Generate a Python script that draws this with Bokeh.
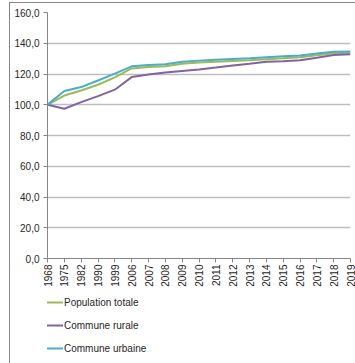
from bokeh.plotting import figure
from bokeh.layouts import column
from bokeh.models import Range1d, FixedTicker, Legend, LegendItem
from bokeh.embed import file_html
from bokeh.resources import INLINE
import math

# Census years (categorical x axis)
years = ["1968", "1975", "1982", "1990", "1999", "2006", "2007", "2008", "2009",
         "2010", "2011", "2012", "2013", "2014", "2015", "2016", "2017", "2018", "2019"]

# Population index, base 100 in 1968
population_totale = [100.0, 106.0, 109.3, 113.0, 117.8, 123.6, 124.5, 125.0, 126.7,
                     127.4, 128.0, 128.5, 128.9, 129.6, 130.2, 130.9, 132.2, 133.5, 133.9]
commune_rurale = [100.0, 97.4, 101.7, 105.6, 109.8, 118.0, 119.7, 121.0, 122.0,
                  123.0, 124.2, 125.5, 126.6, 128.0, 128.3, 128.9, 130.6, 132.4, 132.8]
commune_urbaine = [100.0, 108.9, 111.5, 115.8, 120.2, 125.0, 125.8, 126.4, 128.0,
                   128.7, 129.3, 129.8, 130.2, 130.9, 131.5, 132.0, 133.3, 134.4, 134.6]

series_names = ["Population totale", "Commune rurale", "Commune urbaine"]
series_colors = ["#9bbb59", "#8064a2", "#4bacc6"]

y_ticks = [0, 20, 40, 60, 80, 100, 120, 140, 160]

xs = list(range(len(years)))

FONT = "Liberation Sans"
AXIS_GREY = "#868686"
TEXT = "#262626"

p = figure(width=346, height=290, output_backend="svg", toolbar_location=None,
           x_range=Range1d(0, len(years) - 1), y_range=Range1d(0, 160),
           min_border_left=37, min_border_right=6, min_border_top=9,
           min_border_bottom=35)
p.outline_line_color = None
p.background_fill_color = "white"
p.border_fill_color = "white"

# series
for vals, col in zip([population_totale, commune_rurale, commune_urbaine], series_colors):
    p.line(xs, vals, line_color=col, line_width=2)

# x axis
xa = p.xaxis[0]
xa.ticker = FixedTicker(ticks=xs)
xa.major_label_overrides = {i: y for i, y in enumerate(years)}
xa.major_label_orientation = math.pi / 2
xa.major_label_text_font = FONT
xa.major_label_text_font_size = "10px"
xa.major_label_text_color = TEXT
xa.major_label_standoff = 2
xa.axis_line_color = AXIS_GREY
xa.major_tick_line_color = AXIS_GREY
xa.major_tick_out = 4
xa.major_tick_in = 0
xa.minor_tick_line_color = None

# y axis
ya = p.yaxis[0]
ya.ticker = FixedTicker(ticks=y_ticks)
ya.major_label_overrides = {v: f"{v:.1f}".replace(".", ",") for v in y_ticks}
ya.major_label_text_font = FONT
ya.major_label_text_font_size = "10px"
ya.major_label_text_color = TEXT
ya.major_label_standoff = 4
ya.axis_line_color = AXIS_GREY
ya.major_tick_line_color = AXIS_GREY
ya.major_tick_out = 4
ya.major_tick_in = 0
ya.minor_tick_line_color = None

# grid
p.xgrid.grid_line_color = None
p.ygrid.ticker = FixedTicker(ticks=y_ticks[1:])
p.ygrid.grid_line_color = "#bebebe"
p.ygrid.grid_line_width = 1.5

# legend strip below the chart
leg = figure(width=346, height=71, output_backend="svg", toolbar_location=None,
             x_range=Range1d(0, 1), y_range=Range1d(0, 1),
             x_axis_location=None, y_axis_location=None,
             min_border=0)
leg.outline_line_color = None
leg.xgrid.grid_line_color = None
leg.ygrid.grid_line_color = None

items = []
for name, col in zip(series_names, series_colors):
    # off-range sample line: only its legend swatch shows
    r = leg.line([-2, -1], [-2, -1], line_color=col, line_width=2)
    items.append(LegendItem(label=name, renderers=[r]))

legend = Legend(items=items, location=(-5, 8))
legend.orientation = "vertical"
legend.padding = 0
legend.margin = 0
legend.spacing = 7
legend.glyph_width = 21
legend.glyph_height = 16
legend.label_height = 16
legend.label_standoff = 1
legend.label_text_font = FONT
legend.label_text_font_size = "10px"
legend.label_text_color = TEXT
legend.border_line_color = None
legend.background_fill_alpha = 0
legend.click_policy = "none"
leg.add_layout(legend, "center")

# chart area border (left and top edges visible)
layout = column(p, leg, spacing=0,
                styles={"margin-left": "9px", "margin-top": "2px",
                        "border-left": f"1px solid {AXIS_GREY}",
                        "border-top": f"1px solid {AXIS_GREY}"})

open("out.html", "w").write(file_html(layout, INLINE))
